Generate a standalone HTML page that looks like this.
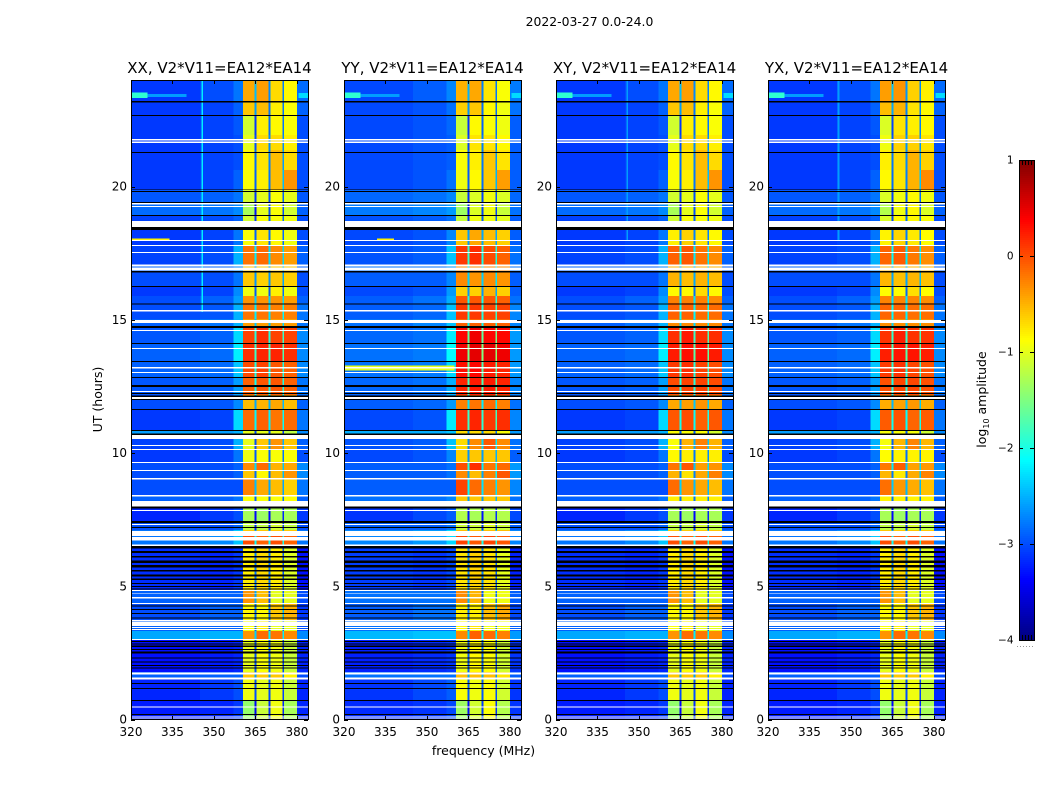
<!DOCTYPE html>
<html lang="en">
<head>
<meta charset="utf-8">
<title>2022-03-27 0.0-24.0</title>
<style>
html,body{margin:0;padding:0;background:#fff;}
svg{display:block;}
text{font-family:"DejaVu Sans","Liberation Sans",sans-serif;fill:#000;}
</style>
</head>
<body>
<svg id="chart" xmlns="http://www.w3.org/2000/svg" width="1050" height="800" viewBox="0 0 1050 800">
  <text x="589.5" y="26" text-anchor="middle" font-size="12.4">2022-03-27 0.0-24.0</text>
  <text x="102" y="399.5" text-anchor="middle" font-size="12.5" transform="rotate(-90 102 399.5)">UT (hours)</text>
  <text x="483.5" y="755" text-anchor="middle" font-size="12.5">frequency (MHz)</text>
  <text x="986" y="399.5" text-anchor="middle" font-size="12.5" transform="rotate(-90 986 399.5)">log<tspan font-size="8" dy="3">10</tspan><tspan dy="-3"> amplitude</tspan></text>
  <g id="panels"></g>
  <g id="colorbar"></g>
</svg>
<script>
// ---- chart data ----
const panelTitles = ["XX, V2*V11=EA12*EA14", "YY, V2*V11=EA12*EA14", "XY, V2*V11=EA12*EA14", "YX, V2*V11=EA12*EA14"];
const freqTicks = [320, 335, 350, 365, 380];
const timeTicks = [0, 5, 10, 15, 20];
const colorbarTicks = [-4, -3, -2, -1, 0, 1];
const colorbarMinorTicks = [0.2, 0.4, 0.6, 0.8];

// Frequency column edges in MHz: background, mid, glow, four receiver bands, upper edge.
const freqEdges = [320, 345, 357, 360.5, 365, 370, 375, 380, 384];
// Narrow notches between receiver bands (MHz centre) and their depth in log10 amplitude.
const notchFreqs = [365, 370, 375];
const notchDepths = [2.0, 2.0, 1.9];

// Time row edges in hours.
const timeEdges = [0, 0.73, 1.56, 1.78, 3.02, 3.32, 3.73, 4.37, 4.86, 6.55, 6.89, 7.11, 7.45, 7.94, 8.2, 8.39, 9.02, 9.32, 9.66, 10.11, 10.6, 10.86, 11.61, 12.18, 12.85, 13.45, 14.13, 14.77, 15.03, 15.63, 15.89, 16.27, 16.79, 17.05, 17.8, 18.37, 18.71, 18.93, 19.42, 19.87, 20.62, 21.37, 21.93, 22.68, 23.21, 24];

// log10 amplitude per time row (rows) and frequency column (columns).
const spectrumLevels = [
  [-3.25,-3.2,-3.1,-1.4,-1.15,-0.95,-1.3,-3.2],
  [-3.2,-3.1,-3.0,-0.95,-1.0,-0.95,-1.15,-3.2],
  [-2.9,-2.9,-2.9,-0.6,-0.6,-0.6,-0.8,-3.0],
  [-3.3,-3.25,-3.2,-1.0,-0.9,-0.95,-1.15,-3.2],
  [-2.55,-2.5,-2.5,-0.35,-0.15,-0.2,-0.3,-2.7],
  [-2.9,-2.9,-2.9,-0.9,-0.8,-1.0,-1.0,-3.0],
  [-3.0,-2.9,-2.9,-0.85,-0.85,-0.6,-0.5,-3.1],
  [-2.9,-2.9,-2.9,-0.35,-0.55,-1.0,-1.0,-3.0],
  [-3.15,-3.2,-3.1,-0.8,-0.7,-0.8,-1.05,-3.3],
  [-2.8,-2.7,-2.4,0.0,-0.1,0.0,-0.1,-2.8],
  [-2.8,-2.7,-2.4,-0.6,-0.6,-0.6,-0.6,-2.8],
  [-3.0,-3.0,-2.9,-1.2,-1.2,-1.1,-1.2,-3.0],
  [-3.2,-3.1,-3.0,-1.3,-1.35,-1.3,-1.3,-3.1],
  [-2.9,-2.9,-2.9,-1.0,-1.0,-1.0,-1.0,-3.0],
  [-2.9,-2.9,-2.8,-0.9,-0.9,-0.9,-0.9,-2.9],
  [-3.0,-3.0,-3.0,-0.25,-0.45,-0.55,-0.65,-2.8],
  [-3.0,-3.0,-2.9,-0.6,-0.85,-0.55,-0.35,-2.7],
  [-3.0,-3.0,-2.9,-0.3,-0.15,-0.5,-0.45,-2.7],
  [-3.1,-3.05,-2.8,-0.95,-0.9,-0.9,-0.9,-3.0],
  [-3.05,-3.0,-2.5,-1.0,-0.6,-0.35,-0.6,-2.9],
  [-2.6,-2.6,-2.5,-1.0,-1.0,-1.0,-1.2,-2.7],
  [-3.1,-3.05,-2.3,-0.15,-0.1,-0.2,-0.15,-2.8],
  [-3.0,-2.95,-2.7,-0.55,-0.5,-0.45,-0.55,-2.9],
  [-2.95,-2.9,-2.6,-0.1,-0.05,-0.05,-0.1,-2.8],
  [-2.9,-2.85,-2.4,0.0,0.05,-0.05,-0.1,-2.7],
  [-2.9,-2.85,-2.2,0.15,0.2,0.2,0.15,-2.7],
  [-2.95,-2.9,-2.3,0.05,0.15,0.05,0.05,-2.7],
  [-2.9,-2.8,-2.5,-0.4,-0.4,-0.4,-0.4,-2.8],
  [-3.0,-2.95,-2.5,-0.2,-0.2,-0.25,-0.25,-2.8],
  [-3.0,-2.9,-2.6,-0.35,-0.35,-0.35,-0.4,-2.9],
  [-3.1,-3.05,-2.7,-0.95,-0.95,-0.8,-0.95,-3.0],
  [-3.0,-3.0,-2.8,-0.6,-0.65,-0.6,-0.65,-3.0],
  [-2.9,-2.9,-2.7,-0.6,-0.6,-0.6,-0.6,-2.9],
  [-3.05,-3.0,-2.5,-0.2,-0.15,-0.3,-0.4,-2.9],
  [-3.1,-3.05,-2.8,-0.9,-0.75,-0.85,-0.95,-3.0],
  [-3.1,-3.05,-3.0,-0.9,-0.9,-0.9,-0.95,-3.0],
  [-3.05,-3.0,-2.9,-1.1,-0.9,-0.9,-0.95,-3.0],
  [-2.85,-2.8,-2.7,-1.3,-1.0,-0.9,-1.1,-2.9],
  [-2.95,-2.9,-2.8,-1.1,-1.0,-0.9,-1.0,-2.95],
  [-3.1,-3.05,-2.9,-0.9,-0.8,-0.55,-0.35,-3.0],
  [-3.1,-3.05,-3.0,-0.85,-0.75,-0.55,-0.7,-3.0],
  [-3.1,-3.05,-3.0,-1.0,-0.7,-0.7,-0.8,-3.0],
  [-3.1,-3.05,-2.95,-1.1,-0.8,-0.85,-0.9,-3.0],
  [-3.1,-3.05,-2.9,-0.6,-0.55,-0.8,-0.9,-2.9],
  [-3.1,-3.0,-2.8,-0.45,-0.4,-0.7,-0.85,-2.85]
];

// Band brightness offsets per polarisation over three time zones.
const zoneEdges = [0, 7.5, 18.4, 24];
const bandOffsets = [
  [0, 0, 0],
  [0.05, 0.3, -0.05],
  [0, 0.1, 0],
  [0, 0.08, 0.05]
];
const backgroundOffsets = [0, 0.08, 0, 0];

// Interference features: [freqStart, freqEnd, timeStart, timeEnd, log10 amplitude].
const rfiXX = [[345.4,346,15.3,24,-2.2],[326,340,23.36,23.48,-2.6],[320,326,23.32,23.52,-1.9],[380.5,384,23.32,23.5,-2.3],[320,334,17.98,18.04,-0.8]];
const rfiYY = [[320,360,13.1,13.28,-1.0],[326,340,23.36,23.48,-2.6],[320,326,23.32,23.52,-1.9],[380.5,384,23.32,23.5,-2.3],[332,338,17.98,18.04,-0.8]];
const rfiXY = [[345.4,346,18,24,-2.6],[326,340,23.36,23.48,-2.6],[320,326,23.32,23.52,-1.9],[380.5,384,23.32,23.5,-2.3]];
const rfiYX = [[345.2,345.8,18,24,-2.6],[326,340,23.36,23.48,-2.6],[320,326,23.32,23.52,-1.9],[380.5,384,23.32,23.5,-2.3]];
const rfiFeatures = [rfiXX, rfiYY, rfiXY, rfiYX];

// Flagged time spans (hours), drawn white.
const flaggedSpans = [[21.73,21.78],[21.63,21.69],[19.32,19.38],[19.23,19.27],[18.48,18.71],[17.95,17.99],[17.77,17.80],[17.50,17.54],[16.99,17.08],[16.84,16.97],[15.31,15.37],[14.88,14.99],[14.58,14.62],[13.90,13.94],[13.17,13.23],[13.00,13.04],[12.29,12.33],[12.02,12.11],[10.53,10.68],[10.26,10.30],[10.11,10.15],[9.62,9.66],[9.32,9.36],[9.01,9.06],[8.37,8.42],[8.00,8.20],[7.82,7.86],[7.30,7.34],[6.89,7.08],[6.72,6.85],[6.51,6.57],[4.82,4.86],[4.72,4.75],[4.54,4.60],[4.33,4.37],[3.70,3.73],[3.51,3.67],[3.43,3.47],[3.36,3.40],[2.98,3.02],[1.68,1.76],[1.50,1.58],[0.45,0.49],[0.08,0.11],[0.02,0.04]];
// Zero-amplitude time spans (hours), drawn black.
const droppedSpans = [[23.16,23.21],[22.64,22.68],[21.26,21.29],[19.87,19.89],[19.79,19.83],[19.38,19.42],[18.89,18.93],[18.37,18.48],[16.77,16.83],[16.23,16.27],[15.57,15.61],[14.69,14.77],[14.09,14.13],[13.41,13.45],[12.81,12.85],[12.48,12.55],[12.21,12.25],[12.11,12.16],[11.98,12.02],[11.61,11.65],[10.83,10.86],[10.68,10.74],[7.92,8.00],[7.37,7.45],[7.19,7.22],[6.42,6.51],[6.25,6.33],[6.07,6.14],[5.88,5.96],[5.71,5.80],[5.55,5.61],[5.36,5.45],[5.23,5.30],[5.08,5.12],[4.97,5.01],[4.88,4.92],[4.24,4.28],[4.11,4.15],[3.96,4.00],[3.79,3.83],[2.91,2.95],[2.82,2.86],[2.73,2.77],[2.61,2.65],[2.48,2.55],[2.28,2.32],[2.13,2.17],[2.01,2.05],[1.92,1.96],[1.33,1.37],[1.14,1.18],[0.69,0.73],[0.17,0.21]];

// ---- layout and scales ----
const NS = 'http://www.w3.org/2000/svg';
const panelLefts = [131, 344, 556, 768];
const panelWidth = 177;
const plotTop = 80, plotBottom = 720;
const freqMin = 320, freqMax = 384;
const levelMin = -4, levelMax = 1;
const xScale = (f, i) => panelLefts[i] + (f - freqMin) * panelWidth / (freqMax - freqMin);
const yScale = t => 719.5 - t * 26.65;

function clamp01(v) { return Math.max(0, Math.min(1, v)); }
function jet(level) {
  const n = clamp01((level - levelMin) / (levelMax - levelMin));
  const r = clamp01(1.5 - Math.abs(4 * n - 3));
  const g = clamp01(1.5 - Math.abs(4 * n - 2));
  const b = clamp01(1.5 - Math.abs(4 * n - 1));
  return 'rgb(' + Math.round(r * 255) + ',' + Math.round(g * 255) + ',' + Math.round(b * 255) + ')';
}
function rect(parent, x, y, w, h, fill) {
  const el = document.createElementNS(NS, 'rect');
  el.setAttribute('x', x.toFixed(2));
  el.setAttribute('y', y.toFixed(2));
  el.setAttribute('width', Math.max(w, 0).toFixed(2));
  el.setAttribute('height', Math.max(h, 0).toFixed(2));
  el.setAttribute('fill', fill);
  el.setAttribute('shape-rendering', 'crispEdges');
  parent.appendChild(el);
  return el;
}
function line(parent, x1, y1, x2, y2) {
  const el = document.createElementNS(NS, 'line');
  el.setAttribute('x1', x1);
  el.setAttribute('y1', y1);
  el.setAttribute('x2', x2);
  el.setAttribute('y2', y2);
  el.setAttribute('stroke', '#000');
  el.setAttribute('stroke-width', '1');
  parent.appendChild(el);
  return el;
}
function label(parent, x, y, str, anchor, size) {
  const el = document.createElementNS(NS, 'text');
  el.setAttribute('x', x);
  el.setAttribute('y', y);
  el.setAttribute('text-anchor', anchor);
  el.setAttribute('font-size', size);
  el.textContent = str;
  parent.appendChild(el);
  return el;
}
function zoneOffset(panel, t) {
  for (let z = 0; z < zoneEdges.length - 1; z++) {
    if (t >= zoneEdges[z] && t < zoneEdges[z + 1]) return bandOffsets[panel][z];
  }
  return 0;
}

const panelsGroup = document.getElementById('panels');
panelTitles.forEach(function (title, p) {
  const g = document.createElementNS(NS, 'g');
  
  
  panelsGroup.appendChild(g);

  // heatmap cells
  spectrumLevels.forEach(function (row, r) {
    const t0 = timeEdges[r], t1 = timeEdges[r + 1];
    const yTop = yScale(t1), yBot = yScale(t0);
    const off = zoneOffset(p, t0);
    row.forEach(function (level, c) {
      const isBand = c >= 3 && c <= 6;
      const value = level + (isBand ? off : backgroundOffsets[p]);
      const x0 = xScale(freqEdges[c], p), x1 = xScale(freqEdges[c + 1], p);
      const cell = rect(g, x0, yTop, x1 - x0, yBot - yTop, jet(value));
      
      
    });
    // notches between receiver bands
    notchFreqs.forEach(function (f, n) {
      const value = Math.min(row[3 + n], row[4 + n]) + off - notchDepths[n];
      const notch = rect(g, xScale(f - 0.3, p), yTop, xScale(f + 0.35, p) - xScale(f - 0.3, p), yBot - yTop, jet(value));
      
      
    });
  });

  // interference features
  rfiFeatures[p].forEach(function (d) {
    const el = rect(g, xScale(d[0], p), yScale(d[3]), xScale(d[1], p) - xScale(d[0], p), yScale(d[2]) - yScale(d[3]), jet(d[4]));
    
    
  });

  // flagged and dropped time spans
  flaggedSpans.forEach(function (s) {
    const el = rect(g, panelLefts[p], yScale(s[1]), panelWidth, yScale(s[0]) - yScale(s[1]), '#fff');
    
    
  });
  droppedSpans.forEach(function (s) {
    const el = rect(g, panelLefts[p], yScale(s[1]), panelWidth, yScale(s[0]) - yScale(s[1]), '#000');
    
    
  });

  // frame
  const frame = rect(g, panelLefts[p] + 0.5, plotTop + 0.5, panelWidth, plotBottom - plotTop - 1, 'none');
  frame.setAttribute('stroke', '#000');
  frame.setAttribute('stroke-width', '1');
  frame.removeAttribute('shape-rendering');
  
  

  // ticks and tick labels
  freqTicks.forEach(function (f) {
    const x = Math.round(xScale(f, p)) + 0.5;
    const a = line(g, x, plotBottom, x, plotBottom - 4);
    
    
    const b = line(g, x, plotTop, x, plotTop + 4);
    
    
    const t = label(g, xScale(f, p), 736, String(f), 'middle', 12);
    
    
  });
  timeTicks.forEach(function (v) {
    const y = Math.round(yScale(v)) + 0.5;
    const a = line(g, panelLefts[p], y, panelLefts[p] + 4, y);
    
    
    const b = line(g, panelLefts[p] + panelWidth, y, panelLefts[p] + panelWidth - 4, y);
    
    
    const t = label(g, panelLefts[p] - 4, yScale(v) + 4, String(v), 'end', 12);
    
    
  });

  const titleEl = label(g, panelLefts[p] + panelWidth / 2, 73, title, 'middle', 15);
  
  
});

// ---- colorbar ----
const cbGroup = document.getElementById('colorbar');
const cbLeft = 1019, cbWidth = 15, cbTop = 160, cbBottom = 640;
const cbScale = v => cbBottom - (v - levelMin) * (cbBottom - cbTop) / (levelMax - levelMin);
for (let y = cbTop; y < cbBottom; y += 2) {
  const level = levelMax - (y + 1 - cbTop) * (levelMax - levelMin) / (cbBottom - cbTop);
  const step = rect(cbGroup, cbLeft, y, cbWidth, 2, jet(level));
  
  
}
const cbFrame = rect(cbGroup, cbLeft + 0.5, cbTop + 0.5, cbWidth, cbBottom - cbTop, 'none');
cbFrame.setAttribute('stroke', '#000');
cbFrame.removeAttribute('shape-rendering');


colorbarTicks.forEach(function (v) {
  const y = Math.round(cbScale(v)) + 0.5;
  const a = line(cbGroup, cbLeft, y, cbLeft + 4, y);
  
  
  const b = line(cbGroup, cbLeft + cbWidth, y, cbLeft + cbWidth - 4, y);
  
  
  const t = label(cbGroup, 1013.5, cbScale(v) + 3.5, String(v).replace('-', '\u2212'), 'end', 10.5);
  
  
});
colorbarMinorTicks.forEach(function (m) {
  const x = Math.round(cbLeft + m * cbWidth) + 0.5;
  const a = line(cbGroup, x, cbTop, x, cbTop + 5);
  
  
  const b = line(cbGroup, x, cbBottom, x, cbBottom - 5);
  
  
});
const cbDots = line(cbGroup, 1017, 646.5, 1035, 646.5);
cbDots.setAttribute('stroke', '#999');
cbDots.setAttribute('stroke-dasharray', '1 2');


</script>
</body>
</html>
